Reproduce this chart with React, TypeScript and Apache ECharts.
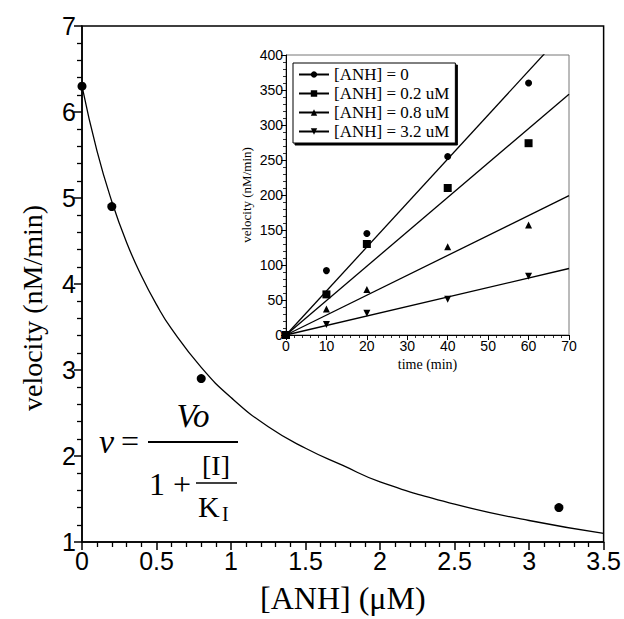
import React, { useEffect, useRef } from "react";
import * as echarts from "echarts";

// Main plot: inhibitor concentration vs velocity
const mainPointsX = [0, 0.2, 0.8, 3.2];
const mainPointsY = [6.3, 4.9, 2.9, 1.4];
// Fitted curve
const curveX = [0, 0.1, 0.2, 0.3, 0.4, 0.5, 0.6, 0.8, 1.0, 1.25, 1.5, 1.75, 2.0, 2.5, 3.0, 3.5];
const curveY = [6.3, 5.55, 4.96, 4.48, 4.09, 3.76, 3.48, 3.03, 2.68, 2.34, 2.09, 1.89, 1.7, 1.44, 1.25, 1.1];

// Inset: time course
const insetNames = ["[ANH] = 0", "[ANH] = 0.2 uM", "[ANH] = 0.8 uM", "[ANH] = 3.2 uM"];
const insetTimes = [0, 10, 20, 40, 60];
const insetS0 = [0, 92, 145, 255, 360];
const insetS1 = [0, 58, 130, 210, 274];
const insetS2 = [0, 37, 65, 126, 157];
const insetS3 = [0, 15, 31, 51, 84];
const insetValues = [insetS0, insetS1, insetS2, insetS3];
// Fit lines: value at t = 70 min
const fitEndT = 70;
const fitEndV = [440, 344, 199, 95];
const insetSymbols = ["circle", "rect", "triangle", "triangle"];
const insetRotate = [0, 0, 0, 180];
const insetSymbolSizes = [7, 8, 7, 7];

const SERIF = "'Liberation Serif', 'Times New Roman', serif";
const SANS = "'Liberation Sans', Arial, sans-serif";

export default function App() {
  const ref = useRef<HTMLDivElement>(null);
  useEffect(() => {
    if (!ref.current) return;
    const chart = echarts.init(ref.current, undefined, { renderer: "svg" });

    const series: any[] = [
      {
        type: "line",
        xAxisIndex: 0,
        yAxisIndex: 0,
        data: curveX.map((x, i) => [x, curveY[i]]),
        smooth: 0.5,
        showSymbol: false,
        symbol: "none",
        lineStyle: { color: "#000", width: 1.3 },
        silent: true,
      },
      {
        type: "scatter",
        xAxisIndex: 0,
        yAxisIndex: 0,
        data: mainPointsX.map((x, i) => [x, mainPointsY[i]]),
        symbol: "circle",
        symbolSize: 9,
        itemStyle: { color: "#000", opacity: 1 },
      },
    ];

    insetNames.forEach((name, k) => {
      series.push({
        type: "line",
        name,
        xAxisIndex: 1,
        yAxisIndex: 1,
        data: [
          [0, 0],
          [fitEndT, fitEndV[k]],
        ],
        symbol: insetSymbols[k],
        symbolRotate: insetRotate[k],
        showSymbol: false,
        clip: true,
        lineStyle: { color: "#000", width: 1.3 },
        itemStyle: { color: "#000" },
      });
      series.push({
        type: "scatter",
        name: "pts" + k,
        xAxisIndex: 1,
        yAxisIndex: 1,
        data: insetTimes.map((t, i) => [t, insetValues[k][i]]),
        symbol: insetSymbols[k],
        symbolRotate: insetRotate[k],
        symbolSize: insetSymbolSizes[k],
        itemStyle: { color: "#000", opacity: 1 },
        z: 4,
      });
    });

    const axisCommon = {
      axisLine: { show: true, lineStyle: { color: "#000", width: 1.5 } },
      splitLine: { show: false },
    };

    chart.setOption({
      animation: false,
      backgroundColor: "#fff",
      grid: [
        {
          left: 82,
          top: 26,
          right: 20,
          bottom: 73,
          show: true,
          borderColor: "#000",
          borderWidth: 1.5,
          backgroundColor: "transparent",
        },
        {
          left: 286,
          top: 55,
          right: 55,
          bottom: 284,
          show: true,
          borderColor: "#777",
          borderWidth: 1,
          backgroundColor: "transparent",
        },
      ],
      legend: {
        data: insetNames,
        orient: "vertical",
        left: 293,
        top: 63,
        itemWidth: 30,
        itemHeight: 8,
        itemGap: 2,
        itemTextGap: 2,
        padding: [3, 6, 3, 5],
        backgroundColor: "#fff",
        borderColor: "#000",
        borderWidth: 1,
        shadowColor: "#000",
        shadowBlur: 0,
        shadowOffsetX: 2,
        shadowOffsetY: 2,
        textStyle: { fontFamily: SERIF, fontSize: 17, color: "#000", lineHeight: 17 },
        selectedMode: false,
        z: 10,
      },
      xAxis: [
        {
          gridIndex: 0,
          type: "value",
          min: 0,
          max: 3.5,
          interval: 0.5,
          ...axisCommon,
          axisTick: { show: true, inside: false, length: 8, lineStyle: { color: "#000", width: 1.5 } },
          minorTick: { show: true, splitNumber: 5, length: 5, lineStyle: { color: "#000", width: 1.3 } },
          axisLabel: { fontFamily: SANS, fontSize: 25, color: "#000", margin: 6 },
          name: "[ANH] (μM)",
          nameLocation: "middle",
          nameGap: 40,
          nameTextStyle: { fontFamily: SERIF, fontSize: 32, color: "#000" },
        },
        {
          gridIndex: 1,
          type: "value",
          min: 0,
          max: 70,
          interval: 10,
          ...axisCommon,
          axisLine: { show: true, lineStyle: { color: "#000", width: 1 } },
          axisTick: { show: true, inside: false, length: 5, lineStyle: { color: "#000", width: 1 } },
          minorTick: { show: true, splitNumber: 5, length: 3, lineStyle: { color: "#000", width: 0.8 } },
          axisLabel: { fontFamily: SANS, fontSize: 14, color: "#000", margin: 4 },
          name: "time (min)",
          nameLocation: "middle",
          nameGap: 22,
          nameTextStyle: { fontFamily: SERIF, fontSize: 14, color: "#000" },
        },
      ],
      yAxis: [
        {
          gridIndex: 0,
          type: "value",
          min: 1,
          max: 7,
          interval: 1,
          ...axisCommon,
          axisTick: { show: true, inside: false, length: 8, lineStyle: { color: "#000", width: 1.5 } },
          minorTick: { show: true, splitNumber: 5, length: 5, lineStyle: { color: "#000", width: 1.3 } },
          axisLabel: { fontFamily: SANS, fontSize: 25, color: "#000", margin: 6 },
        },
        {
          gridIndex: 1,
          type: "value",
          min: 0,
          max: 400,
          interval: 50,
          ...axisCommon,
          axisLine: { show: true, lineStyle: { color: "#000", width: 1 } },
          axisTick: { show: true, inside: false, length: 5, lineStyle: { color: "#000", width: 1 } },
          minorTick: { show: true, splitNumber: 5, length: 3, lineStyle: { color: "#000", width: 0.8 } },
          axisLabel: { fontFamily: SANS, fontSize: 14, color: "#000", margin: 3 },
          name: "velocity (nM/min)",
          nameLocation: "middle",
          nameGap: 33,
          nameTextStyle: { fontFamily: SERIF, fontSize: 13, color: "#000" },
        },
      ],
      series,
      graphic: [
        {
          type: "text",
          x: 32,
          y: 308,
          rotation: Math.PI / 2,
          style: {
            text: "velocity (nM/min)",
            font: `28px ${SERIF}`,
            fill: "#000",
            align: "center",
            verticalAlign: "middle",
          },
        },
        {
          type: "group",
          children: [
            { type: "text", x: 99, y: 441, style: { text: "v", font: `italic 34px ${SERIF}`, fill: "#000", verticalAlign: "middle" } },
            { type: "text", x: 121, y: 441, style: { text: "=", font: `32px ${SERIF}`, fill: "#000", verticalAlign: "middle" } },
            { type: "line", shape: { x1: 148, y1: 442, x2: 238, y2: 442 }, style: { stroke: "#000", lineWidth: 2 } },
            { type: "text", x: 193, y: 416, style: { text: "Vo", font: `italic 33px ${SERIF}`, fill: "#000", align: "center", verticalAlign: "middle" } },
            { type: "text", x: 149, y: 484, style: { text: "1 +", font: `32px ${SERIF}`, fill: "#000", verticalAlign: "middle" } },
            { type: "text", x: 216, y: 465, style: { text: "[I]", font: `28px ${SERIF}`, fill: "#000", align: "center", verticalAlign: "middle" } },
            { type: "line", shape: { x1: 196, y1: 483, x2: 237, y2: 483 }, style: { stroke: "#000", lineWidth: 1.5 } },
            { type: "text", x: 198, y: 506, style: { text: "K", font: `30px ${SERIF}`, fill: "#000", verticalAlign: "middle" } },
            { type: "text", x: 222, y: 514, style: { text: "I", font: `20px ${SERIF}`, fill: "#000", verticalAlign: "middle" } },
          ],
        },
      ],
    });
    return () => chart.dispose();
  }, []);
  return (
    <div
      ref={ref}
      style={{ position: "absolute", left: 0, top: 0, width: 624, height: 619, background: "#fff" }}
    />
  );
}
